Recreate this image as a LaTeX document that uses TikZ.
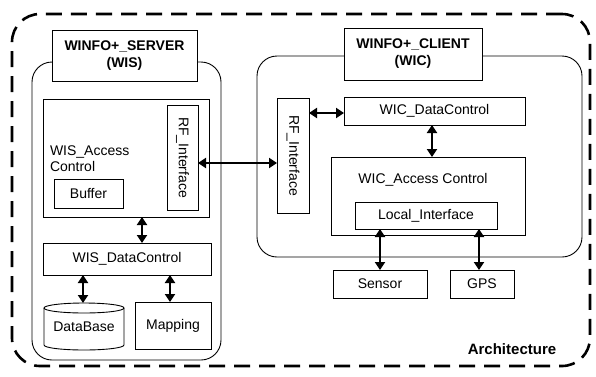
\documentclass[tikz,border=0pt]{standalone}
\usepackage{fontspec}
\setmainfont{Liberation Sans}
\usetikzlibrary{arrows.meta}
\begin{document}
\begin{tikzpicture}[x=1bp,y=-1bp,
  every node/.style={inner sep=0pt, outer sep=0pt, font=\fontsize{14bp}{16bp}\selectfont},
  box/.style={draw, line width=0.9bp, rectangle},
  titlebox/.style={draw, line width=0.9bp, fill=white, align=center, font=\bfseries\fontsize{14bp}{17bp}\selectfont},
  roundbox/.style={draw, line width=0.9bp, rounded corners=20bp},
  rfbox/.style={draw, line width=0.9bp, rotate=-90},
  bi/.style={line width=2.8bp, {Triangle[length=8bp,width=10bp]}-{Triangle[length=8bp,width=10bp]}},
  frame/.style={draw, line width=2.6bp, dash pattern=on 16bp off 9bp, rounded corners=28bp}
]
\useasboundingbox (0,0) rectangle (596,376);
% outer frame
\node[frame, minimum width=578bp, minimum height=352bp] (frame) at (301,190) {};
% server
\node[roundbox, minimum width=189bp, minimum height=298bp] (srvbox) at (126.5,211) {};
\node[titlebox, minimum width=145bp, minimum height=51bp] (srvtitle) at (124.5,55.5) {WINFO+\_SERVER\\(WIS)};
\node[box, minimum width=166bp, minimum height=118bp] (srvac) at (126,158) {};
\node[anchor=west, align=left, font=\fontsize{14bp}{16bp}\selectfont] (srvaclbl) at (50,159) {WIS\_Access\\Control};
\node[box, minimum width=69bp, minimum height=29bp] (buffer) at (88.5,193.5) {Buffer};
\node[rfbox, minimum width=105bp, minimum height=31bp] (srvrf) at (182.5,157.5) {RF\_Interface};
\node[box, minimum width=168bp, minimum height=32bp] (srvdc) at (127,259) {WIS\_DataControl};
\node[minimum width=80bp, minimum height=47bp] (db) at (84,326.5) {DataBase};
\draw[line width=0.9bp] ([yshift=-5bp]db.north west) -- ([yshift=5bp]db.south west)
  arc[start angle=180, end angle=360, x radius=40bp, y radius=5bp] -- ([yshift=-5bp]db.north east);
\draw[line width=0.9bp] ([yshift=-5bp]db.north) ellipse [x radius=40bp, y radius=5bp];
\node[box, minimum width=76bp, minimum height=47bp] (mapping) at (173,325.5) {Mapping};
% client
\node[roundbox, minimum width=325bp, minimum height=201bp] (clibox) at (419.5,156.5) {};
\node[titlebox, minimum width=138bp, minimum height=52bp] (clititle) at (413,54) {WINFO+\_CLIENT\\(WIC)};
\node[rfbox, minimum width=115bp, minimum height=32bp] (clirf) at (293,155.5) {RF\_Interface};
\node[box, minimum width=181bp, minimum height=28bp] (clidc) at (434.5,111) {WIC\_DataControl};
\node[box, minimum width=194bp, minimum height=78bp] (cliac) at (428,196) {};
\node (cliaclbl) at (423,180) {WIC\_Access Control};
\node[box, minimum width=142bp, minimum height=27bp] (local) at (426,215.5) {Local\_Interface};
\node[box, minimum width=94bp, minimum height=28bp] (sensor) at (380,284) {Sensor};
\node[box, minimum width=64bp, minimum height=28bp] (gps) at (482,284) {GPS};
\node[font=\bfseries\fontsize{15bp}{17bp}\selectfont] (arch) at (512,349) {Architecture};
% arrows
\draw[bi] ([xshift=16bp]srvac.south) -- ([xshift=16bp]srvac.south |- srvdc.north);
\draw[bi] ([xshift=-44bp]srvdc.south) -- ([xshift=-44bp]srvdc.south |- db.north);
\draw[bi] ([xshift=43bp]srvdc.south) -- ([xshift=43bp]srvdc.south |- mapping.north);
\draw[bi] ([yshift=-5.5bp]srvrf.north) -- ([yshift=-5.5bp]srvrf.north -| clirf.south);
\draw[bi] ([yshift=-2bp]clidc.west) -- ([yshift=-2bp]clidc.west -| clirf.north);
\draw[bi] ([xshift=-2.5bp]clidc.south) -- ([xshift=-2.5bp]clidc.south |- cliac.north);
\draw[bi] ([xshift=-46bp]local.south) -- ([xshift=-46bp]local.south |- sensor.north);
\draw[bi] ([xshift=53bp]local.south) -- ([xshift=53bp]local.south |- gps.north);
\end{tikzpicture}
\end{document}
